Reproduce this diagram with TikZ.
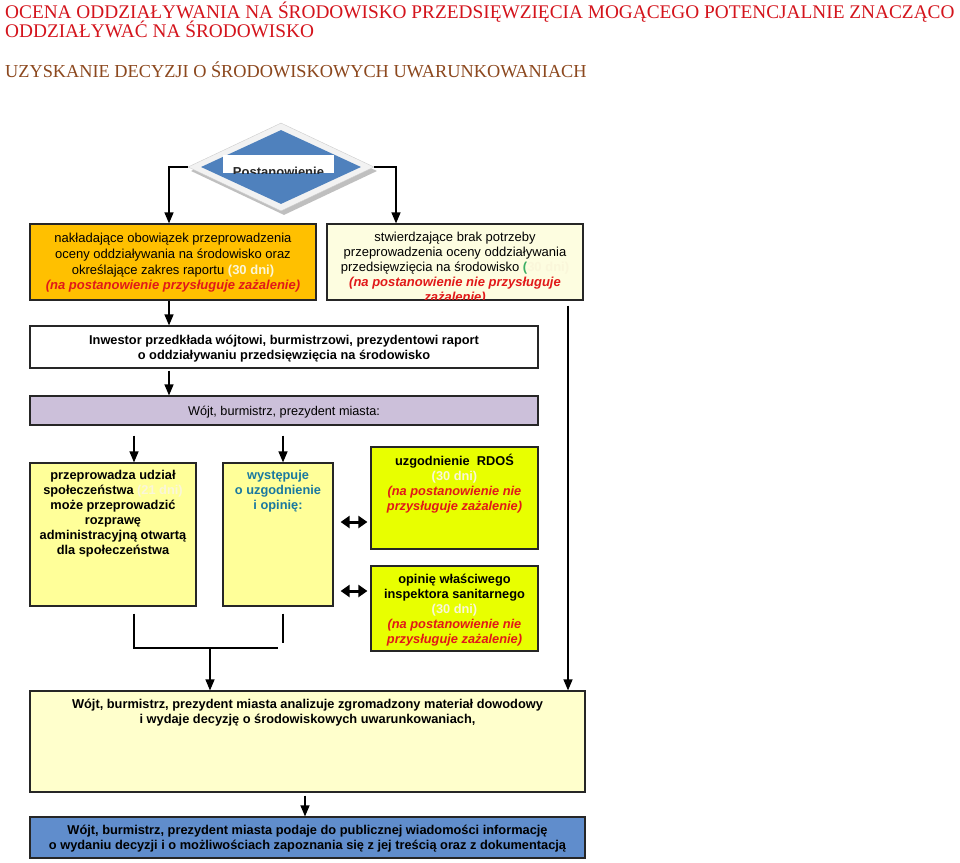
\documentclass[tikz,border=0pt]{standalone}
\usepackage{fontspec}
\setmainfont{Liberation Sans}
\newfontfamily\titlefont{Liberation Serif}
\usetikzlibrary{arrows.meta,shapes.geometric,calc,positioning}

\definecolor{tytul}{RGB}{212,20,28}
\definecolor{podtytul}{RGB}{140,72,30}
\definecolor{diament}{RGB}{79,129,189}
\definecolor{pomarancz}{RGB}{255,192,0}
\definecolor{kremowy}{RGB}{253,253,224}
\definecolor{lawenda}{RGB}{204,192,218}
\definecolor{zolty}{RGB}{255,255,153}
\definecolor{limonka}{RGB}{232,255,0}
\definecolor{jasny}{RGB}{255,255,204}
\definecolor{niebieski}{RGB}{96,141,204}
\definecolor{czerw}{RGB}{225,25,25}
\definecolor{blady}{RGB}{250,246,218}
\definecolor{zielony}{RGB}{60,175,100}
\definecolor{morski}{RGB}{25,120,160}

\newcommand{\zaz}[1]{{\color{czerw}\bfseries\itshape #1}}
\newcommand{\dni}[1]{{\color{blady}\bfseries #1}}

\tikzset{
  box/.style={draw=black!85, line width=1.2pt, inner sep=0pt},
  txt/.style={align=center, inner sep=0pt, font=\fontsize{13}{15.7}\selectfont},
  btxt/.style={align=center, inner sep=0pt, font=\fontsize{12.8}{15}\selectfont\bfseries},
  tytulowy/.style={anchor=base west, inner sep=0pt, font=\titlefont\fontsize{19.3}{22}\selectfont},
  arr/.style={line width=1.3pt, -{Triangle[length=11pt,width=9pt]}},
  linia/.style={line width=1.3pt},
  dblarr/.style={line width=3pt, {Triangle[length=9pt,width=12pt]}-{Triangle[length=9pt,width=12pt]}},
}

\begin{document}
\begin{tikzpicture}[x=1pt,y=1pt,yscale=-1,xscale=1]
\useasboundingbox[fill=white] (0,0) rectangle (960,862);

% Title
\node[tytulowy, text=tytul] (tyt1) at (5,18) {OCENA ODDZIAŁYWANIA NA ŚRODOWISKO PRZEDSIĘWZIĘCIA MOGĄCEGO POTENCJALNIE ZNACZĄCO};
\node[tytulowy, text=tytul] (tyt2) at (5,37) {ODDZIAŁYWAĆ NA ŚRODOWISKO};
\node[tytulowy, text=podtytul, font=\titlefont\fontsize{18.3}{22}\selectfont] (tyt3) at (5,77) {UZYSKANIE DECYZJI O ŚRODOWISKOWYCH UWARUNKOWANIACH};

%Shape: Diamond
\node[diamond, fill=black!25, minimum width=186pt, minimum height=88pt, inner sep=0pt] (diacien) at (284,171) {};
\node[diamond, fill=black!5, draw=black!20, minimum width=186pt, minimum height=88pt, inner sep=0pt] (dia) at (281,167) {};
\node[diamond, fill=diament, minimum width=160pt, minimum height=74pt, inner sep=0pt] (diain) at (dia) {};
\node[fill=white, minimum width=111pt, minimum height=18pt, inner sep=0pt] (postrect) at (278.5,164) {};
\begin{scope}
\clip (postrect.south west) rectangle (postrect.north east);
\node[anchor=base, inner sep=0pt, font=\fontsize{13}{15}\selectfont\bfseries, text=black!85] at (278.5,176) {Postanowienie};
\end{scope}

%Rectangle: orange
\node[box, fill=pomarancz, minimum width=286pt, minimum height=76pt] (nakl) at (173,262) {};
\node[txt] at ($(nakl)+(0,1)$) {nakładające obowiązek przeprowadzenia\\oceny oddziaływania na środowisko oraz\\określające zakres raportu \dni{(30 dni)}\\\zaz{(na postanowienie przysługuje zażalenie)}};

%Rectangle: cream
\node[box, fill=kremowy, minimum width=256pt, minimum height=76pt] (brak) at (455,262) {};
\begin{scope}
\clip ($(brak.south west)+(1,-1)$) rectangle ($(brak.north east)+(-1,1)$);
\node[txt, anchor=north, font=\fontsize{13}{15}\selectfont] at ($(brak.north)+(0,8)$) {stwierdzające brak potrzeby\\przeprowadzenia oceny oddziaływania\\przedsięwzięcia na środowisko {\color{zielony}\bfseries(}\dni{30 dni)}\\\zaz{(na postanowienie nie przysługuje}\\\zaz{zażalenie)}};
\end{scope}

%Rectangle: Inwestor
\node[box, fill=white, minimum width=508pt, minimum height=42pt] (inwestor) at (284,347) {};
\node[btxt] at ($(inwestor)+(0,2)$) {Inwestor przedkłada wójtowi, burmistrzowi, prezydentowi raport\\o oddziaływaniu przedsięwzięcia na środowisko};

%Rectangle: purple
\node[box, fill=lawenda, minimum width=508pt, minimum height=29pt] (wojt) at (284,410.5) {};
\node[txt, font=\fontsize{12.7}{15}\selectfont] at ($(wojt)+(0,2)$) {Wójt, burmistrz, prezydent miasta:};

%Rectangle: udzial
\node[box, fill=zolty, minimum width=166pt, minimum height=143pt] (udzial) at (113,534.5) {};
\node[btxt, anchor=north] at ($(udzial.north)+(0,8)$) {przeprowadza udział\\społeczeństwa {\color{blady}(21 dni)}\\może przeprowadzić\\rozprawę\\administracyjną otwartą\\dla społeczeństwa};

%Rectangle: wystepuje
\node[box, fill=zolty, minimum width=110pt, minimum height=143pt] (wystepuje) at (278,534.5) {};
\node[btxt, anchor=north, text=morski] at ($(wystepuje.north)+(0,8)$) {występuje\\o uzgodnienie\\i opinię:};

%Rectangle: RDOS
\node[box, fill=limonka, minimum width=167pt, minimum height=102pt] (rdos) at (454.5,498) {};
\node[btxt, anchor=north] at ($(rdos.north)+(0,8)$) {uzgodnienie\ \ RDOŚ\\\dni{(30 dni)}\\\zaz{(na postanowienie nie}\\\zaz{przysługuje zażalenie)}};

%Rectangle: sanepid
\node[box, fill=limonka, minimum width=167pt, minimum height=85pt] (sanepid) at (454.5,608.5) {};
\node[btxt, anchor=north] at ($(sanepid.north)+(0,9)$) {opinię właściwego\\inspektora sanitarnego\\\dni{(30 dni)}\\\zaz{(na postanowienie nie}\\\zaz{przysługuje zażalenie)}};

%Rectangle: decyzja
\node[box, fill=jasny, minimum width=555pt, minimum height=101pt] (decyzja) at (307.5,741.5) {};
\node[btxt, anchor=north] at ($(decyzja.north)+(0,9)$) {Wójt, burmistrz, prezydent miasta analizuje zgromadzony materiał dowodowy\\i wydaje decyzję o środowiskowych uwarunkowaniach,};

%Rectangle: blue
\node[box, fill=niebieski, minimum width=555pt, minimum height=41pt] (info) at (307.5,837.5) {};
\node[btxt] at ($(info)+(0,1)$) {Wójt, burmistrz, prezydent miasta podaje do publicznej wiadomości informację\\o wydaniu decyzji i o możliwościach zapoznania się z jej treścią oraz z dokumentacją};

% columns of the connectors
\coordinate (k1) at (169,0);
\coordinate (k2) at (134,0);
\coordinate (k3) at (283,0);
\coordinate (k4) at (568,0);
\coordinate (k5) at (305,0);
\coordinate (zbieg) at (210,648);
\coordinate (zbiegp) at (278,648);
\coordinate (konk) at (283,643);
\coordinate (d1) at (0,522);
\coordinate (d2) at (0,591);

%Straight Lines
\draw[arr] (dia.west) -| (nakl.north -| k1);
\draw[arr] (dia.east) -| ([xshift=-59pt]brak.north);
\draw[arr] (nakl.south -| k1) -- (inwestor.north -| k1);
\draw[arr, shorten <=2pt] (inwestor.south -| k1) -- (wojt.north -| k1);
\draw[arr, shorten <=10pt] (wojt.south -| k2) -- (udzial.north -| k2);
\draw[arr, shorten <=10pt] (wojt.south -| k3) -- (wystepuje.north -| k3);
\draw[linia, shorten <=7pt] (udzial.south -| k2) |- (zbiegp);
\draw[linia, shorten <=7pt] (wystepuje.south -| k3) -- (konk);
\draw[arr] (zbieg) -- (decyzja.north -| zbieg);
\draw[arr, shorten <=5pt] (brak.south -| k4) -- (decyzja.north -| k4);
\draw[arr, shorten <=3pt] (decyzja.south -| k5) -- (info.north -| k5);

% double arrows
\draw[dblarr, shorten <=7pt, shorten >=3pt] (wystepuje.east |- d1) -- (rdos.west |- d1);
\draw[dblarr, shorten <=7pt, shorten >=3pt] (wystepuje.east |- d2) -- (sanepid.west |- d2);

\end{tikzpicture}
\end{document}
